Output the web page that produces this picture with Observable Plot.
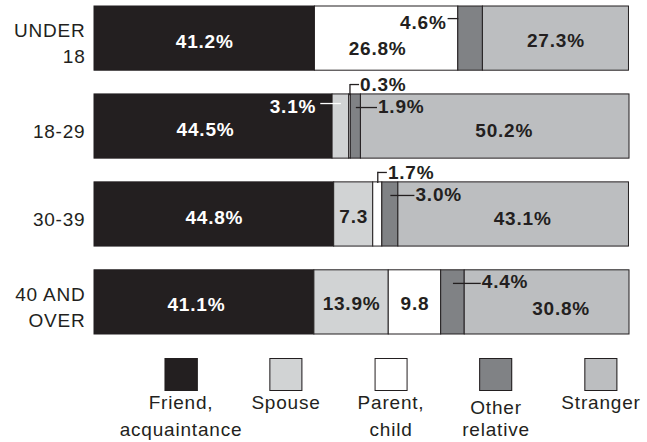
<!DOCTYPE html>
<html><head><meta charset="utf-8">
<script src="https://cdn.jsdelivr.net/npm/d3@7"></script>
<script src="https://cdn.jsdelivr.net/npm/@observablehq/plot@0.6"></script>
<style>
body{margin:0;background:#fff;}
#wrap{position:relative;width:647px;height:442px;font-family:"Liberation Sans",Arial,sans-serif;color:#231f20;overflow:hidden;letter-spacing:0.8px;}
#legend{position:absolute;top:358px;left:0;width:647px;height:84px;}
.item{position:absolute;top:0;transform:translateX(-50%);text-align:center;font-size:19px;line-height:26.5px;white-space:pre;}
.sw{width:33px;height:33px;box-sizing:border-box;border:1px solid #231f20;margin:0 auto -1px;}
</style></head>
<body><div id="wrap"><div id="chart"></div><div id="legend"></div></div>
<script>
const ageGroups = ["UNDER\n18", "18-29", "30-39", "40 AND\nOVER"];
const relations = ["Friend, acquaintance", "Spouse", "Parent, child", "Other relative", "Stranger"];
const legendLabels = ["Friend,\nacquaintance", "Spouse", "Parent,\nchild", "Other\nrelative", "Stranger"];
const colors = ["#231f20", "#d1d3d4", "#ffffff", "#808285", "#bcbec0"];
const friend = [41.2, 44.5, 44.8, 41.1];
const spouse = [0, 3.1, 7.3, 13.9];
const parentChild = [26.8, 0.3, 1.7, 9.8];
const otherRelative = [4.6, 1.9, 3.0, 4.4];
const stranger = [27.3, 50.2, 43.1, 30.8];
const valueLabels = [
  ["41.2%", "", "26.8%", "4.6%", "27.3%"],
  ["44.5%", "3.1%", "0.3%", "1.9%", "50.2%"],
  ["44.8%", "7.3", "1.7%", "3.0%", "43.1%"],
  ["41.1%", "13.9%", "9.8", "4.4%", "30.8%"]
];

// label placement rules (row index | series index)
const placement = {
  "0|3": "left", "1|1": "insideLeft", "1|2": "above", "2|2": "above",
  "1|3": "right", "2|3": "right", "3|3": "right",
  "0|2": "lowL", "3|4": "lowR", "1|4": "cr", "2|4": "cr", "1|0": "cl", "3|0": "cl"
};

const series = [friend, spouse, parentChild, otherRelative, stranger];
const segs = [];
ageGroups.forEach((age, i) => {
  let x0 = 0;
  series.forEach((vals, j) => {
    const v = vals[i];
    segs.push({age, rel: relations[j], j, v, x1: x0, x2: x0 + v, mid: x0 + v / 2,
      label: valueLabels[i][j], place: placement[i + "|" + j] || "c"});
    x0 += v;
  });
});
const lab = segs.filter(d => d.label);
const dark = "#231f20";
const B = {fontSize: 19, fontWeight: "bold"};
const P = (p) => lab.filter(d => d.place === p);

const chart = Plot.plot({
  width: 647, height: 345,
  marginLeft: 94, marginRight: 18, marginTop: 6, marginBottom: 11,
  style: {fontFamily: "'Liberation Sans', Arial, sans-serif", fontSize: "19px", color: dark, background: "white", letterSpacing: "0.8px"},
  x: {domain: [0, 100], axis: null},
  y: {domain: ageGroups, paddingInner: 0.27, paddingOuter: 0, round: false, axis: null},
  color: {domain: relations, range: colors},
  marks: [
    Plot.barX(segs.filter(d => d.v > 0), {x1: "x1", x2: "x2", y: "age", fill: "rel", stroke: dark, strokeWidth: 1}),
    Plot.text(ageGroups, {y: d => d, text: d => d, frameAnchor: "left", textAnchor: "end", dx: -9, dy: 3, lineHeight: 1.4, fontSize: 19, fill: dark}),
    // centred labels
    Plot.text(P("c").filter(d => d.j === 0), {x: "mid", y: "age", text: "label", fill: "white", dy: 3, ...B}),
    Plot.text(P("cl"), {x: "mid", y: "age", text: "label", fill: "white", dx: -8, dy: 3, ...B}),
    Plot.text(P("c").filter(d => d.j !== 0), {x: "mid", y: "age", text: "label", fill: dark, dy: 2, ...B}),
    Plot.text(P("cr"), {x: "mid", y: "age", text: "label", fill: dark, dx: 9, dy: 4, ...B}),
    Plot.text(P("lowL"), {x: "mid", y: "age", text: "label", fill: dark, dx: -9, dy: 10, ...B}),
    Plot.text(P("lowR"), {x: "mid", y: "age", text: "label", fill: dark, dx: 14, dy: 7, ...B}),
    // callouts to the right
    Plot.link(P("right"), {x1: "mid", x2: d => d.x2 + 3, y1: "age", y2: "age", stroke: dark, strokeWidth: 1.3, dy: -19}),
    Plot.text(P("right"), {x: d => d.x2 + 3, y: "age", text: "label", fill: dark, textAnchor: "start", dx: 1, dy: -20, ...B}),
    // callout to the left
    Plot.link(P("left"), {x1: d => d.x1 - 2, x2: "x1", y1: "age", y2: "age", stroke: dark, strokeWidth: 1.3, dy: -20}),
    Plot.text(P("left"), {x: d => d.x1 - 2, y: "age", text: "label", fill: dark, textAnchor: "end", dx: -1, dy: -16, ...B}),
    // callout inside the black segment
    Plot.link(P("insideLeft"), {x1: d => d.x1 - 2.3, x2: "mid", y1: "age", y2: "age", stroke: "white", strokeWidth: 1.3, dy: -23}),
    Plot.text(P("insideLeft"), {x: d => d.x1 - 2.3, y: "age", text: "label", fill: "white", textAnchor: "end", dx: -4, dy: -20, ...B}),
    // bracket callouts above the bar
    Plot.tickX(P("above"), {x: "mid", y: "age", stroke: dark, strokeWidth: 1.3, dy: -10, insetBottom: 53}),
    Plot.link(P("above"), {x1: "mid", x2: d => d.mid + 1.7, y1: "age", y2: "age", stroke: dark, strokeWidth: 1.3, dy: -42}),
    Plot.text(P("above"), {x: d => d.mid + 1.7, y: "age", text: "label", fill: dark, textAnchor: "start", dx: 1, dy: -42, ...B})
  ]
});
document.getElementById("chart").appendChild(chart);

const legend = document.getElementById("legend");
legendLabels.forEach((t, i) => {
  const it = document.createElement("div");
  it.className = "item";
  it.style.left = (181 + i * 105) + "px";
  const sw = document.createElement("div");
  sw.className = "sw";
  sw.style.background = colors[i];
  const tx = document.createElement("div");
  tx.textContent = t;
  if (i === 3) { tx.style.paddingTop = "7px"; tx.style.lineHeight = "21.5px"; }
  it.appendChild(sw); it.appendChild(tx);
  legend.appendChild(it);
});
</script></body></html>
